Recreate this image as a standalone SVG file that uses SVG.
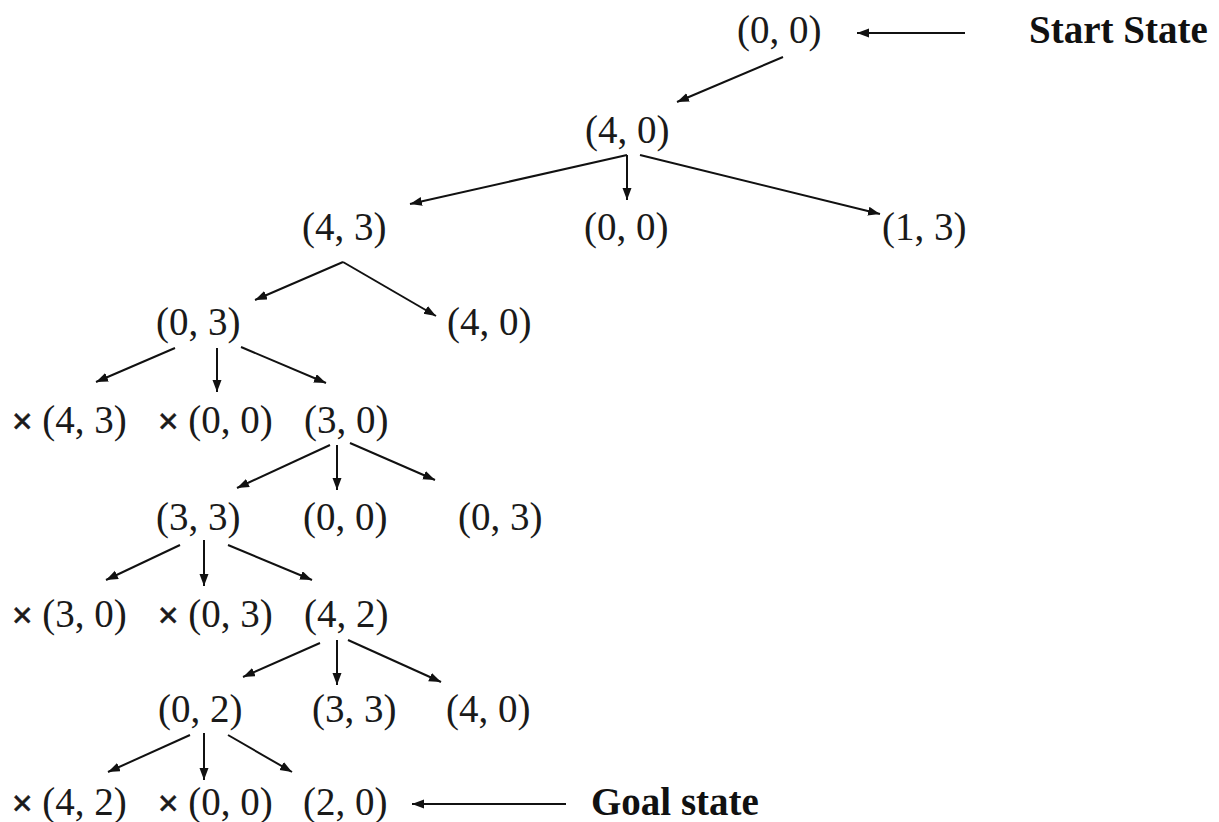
<svg xmlns="http://www.w3.org/2000/svg" width="1219" height="822" viewBox="0 0 1219 822">
<style>
.t{font-family:"Liberation Serif","Times New Roman",serif;font-size:39px;fill:#1a1a1a}
.b{font-family:"Liberation Serif","Times New Roman",serif;font-size:39px;font-weight:bold;fill:#111}
.x{font-family:"Liberation Sans",Arial,sans-serif;font-size:35px;stroke:#1a1a1a;stroke-width:0.6}
.e{stroke:#111;stroke-width:2;fill:none;marker-end:url(#ah)}
</style>
<defs>
<marker id="ah" markerUnits="userSpaceOnUse" markerWidth="14" markerHeight="10" refX="12" refY="4.5" orient="auto">
<path d="M0,0 L12,4.5 L0,9 z" fill="#111"/>
</marker>
</defs>
<rect width="1219" height="822" fill="#fff"/>
<g id="connectors">
<line class="e" x1="783" y1="57" x2="677" y2="102"/>
<line class="e" x1="627" y1="155" x2="410" y2="204"/>
<line class="e" x1="627" y1="155" x2="627" y2="200"/>
<line class="e" x1="640" y1="155" x2="880" y2="214"/>
<line class="e" x1="343" y1="262" x2="255" y2="300"/>
<line class="e" x1="343" y1="262" x2="436" y2="316"/>
<line class="e" x1="175" y1="348" x2="96" y2="382"/>
<line class="e" x1="217" y1="348" x2="217" y2="392"/>
<line class="e" x1="241" y1="347" x2="326" y2="383"/>
<line class="e" x1="330" y1="445" x2="237" y2="488"/>
<line class="e" x1="337" y1="445" x2="337" y2="490"/>
<line class="e" x1="350" y1="443" x2="435" y2="480"/>
<line class="e" x1="180" y1="545" x2="106" y2="580"/>
<line class="e" x1="204" y1="540" x2="204" y2="586"/>
<line class="e" x1="228" y1="545" x2="312" y2="580"/>
<line class="e" x1="320" y1="643" x2="243" y2="677"/>
<line class="e" x1="337" y1="640" x2="337" y2="685"/>
<line class="e" x1="348" y1="640" x2="441" y2="682"/>
<line class="e" x1="190" y1="735" x2="108" y2="772"/>
<line class="e" x1="204" y1="733" x2="204" y2="780"/>
<line class="e" x1="228" y1="735" x2="292" y2="772"/>
<line class="e" x1="965" y1="33" x2="857" y2="33"/>
<line class="e" x1="566" y1="804" x2="412" y2="804"/>
</g>
<g id="n_start"><text class="t" x="737" y="43">(0, 0)</text></g>
<g id="lbl_start"><text class="b" x="1029" y="43">Start State</text></g>
<g id="n_40a"><text class="t" x="585" y="143">(4, 0)</text></g>
<g id="n_43a"><text class="t" x="302" y="240">(4, 3)</text></g>
<g id="n_00a"><text class="t" x="584" y="240">(0, 0)</text></g>
<g id="n_13"><text class="t" x="882" y="240">(1, 3)</text></g>
<g id="n_03a"><text class="t" x="156" y="335">(0, 3)</text></g>
<g id="n_40b"><text class="t" x="447" y="335">(4, 0)</text></g>
<g id="n_43x"><text class="t" x="12" y="433"><tspan class="x">×</tspan> (4, 3)</text></g>
<g id="n_00x"><text class="t" x="158" y="433"><tspan class="x">×</tspan> (0, 0)</text></g>
<g id="n_30a"><text class="t" x="304" y="433">(3, 0)</text></g>
<g id="n_33a"><text class="t" x="156" y="530">(3, 3)</text></g>
<g id="n_00b"><text class="t" x="303" y="530">(0, 0)</text></g>
<g id="n_03b"><text class="t" x="458" y="530">(0, 3)</text></g>
<g id="n_30x"><text class="t" x="12" y="627"><tspan class="x">×</tspan> (3, 0)</text></g>
<g id="n_03x"><text class="t" x="158" y="627"><tspan class="x">×</tspan> (0, 3)</text></g>
<g id="n_42a"><text class="t" x="304" y="627">(4, 2)</text></g>
<g id="n_02"><text class="t" x="158" y="722">(0, 2)</text></g>
<g id="n_33b"><text class="t" x="312" y="722">(3, 3)</text></g>
<g id="n_40c"><text class="t" x="446" y="722">(4, 0)</text></g>
<g id="n_42x"><text class="t" x="12" y="815"><tspan class="x">×</tspan> (4, 2)</text></g>
<g id="n_00x2"><text class="t" x="158" y="815"><tspan class="x">×</tspan> (0, 0)</text></g>
<g id="n_goal"><text class="t" x="303" y="815">(2, 0)</text></g>
<g id="lbl_goal"><text class="b" x="591" y="815">Goal state</text></g>
</svg>
